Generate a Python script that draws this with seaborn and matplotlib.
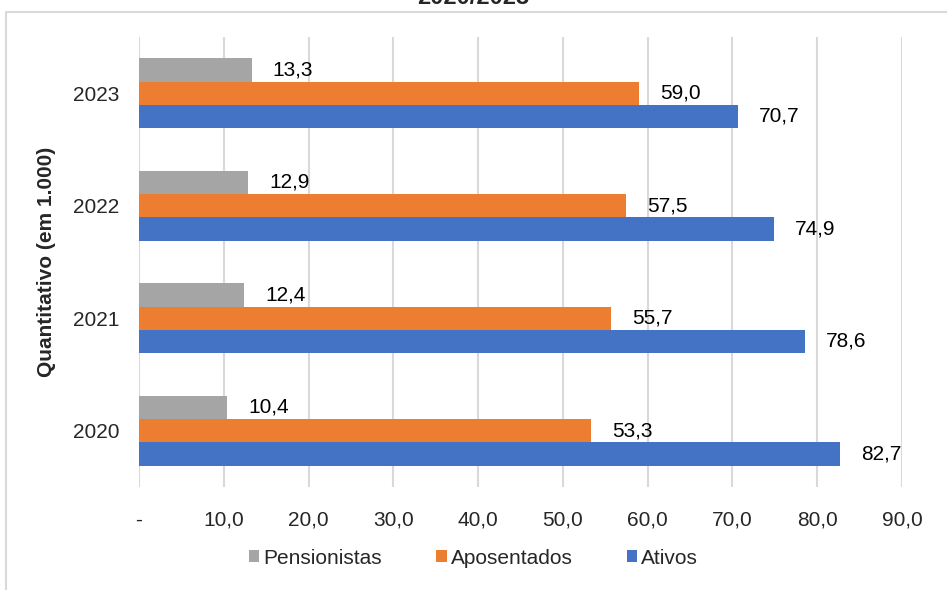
import matplotlib
matplotlib.use('Agg')
import matplotlib.pyplot as plt
from matplotlib.lines import Line2D
import pandas as pd
import seaborn as sns

anos = ['2023', '2022', '2021', '2020']
pensionistas = [13.3, 12.9, 12.4, 10.4]
aposentados = [59.0, 57.5, 55.7, 53.3]
ativos = [70.7, 74.9, 78.6, 82.7]
series = ['Pensionistas', 'Aposentados', 'Ativos']
cores = ['#A5A5A5', '#ED7D31', '#4472C4']
xticks = [0, 10, 20, 30, 40, 50, 60, 70, 80, 90]

df = pd.DataFrame({
    'ano': anos * 3,
    'serie': [s for s in series for _ in anos],
    'valor': pensionistas + aposentados + ativos,
})

sns.set_style('white')
plt.rcParams['font.family'] = ['Liberation Sans', 'DejaVu Sans']

fig = plt.figure(figsize=(9.47, 5.9), dpi=100)
ax = fig.add_axes([0.1468, 0.1746, 0.8057, 0.7627])

sns.barplot(data=df, x='valor', y='ano', hue='serie', order=anos,
            hue_order=series, palette=cores, orient='h', width=0.62,
            saturation=1, linewidth=0, ax=ax, legend=True)

for cont in ax.containers:
    vals = [b.get_width() for b in cont]
    ax.bar_label(cont, labels=[f'{v:.1f}'.replace('.', ',') for v in vals],
                 padding=15, fontsize=15, color='#000000')

ax.set_xlim(0, 90)
ax.set_ylim(3.5, -0.5)
ax.set_xticks(xticks)
ax.set_xticklabels(['-'] + [f'{v:.1f}'.replace('.', ',') for v in xticks[1:]])
ax.tick_params(axis='x', length=0, pad=17, labelsize=15)
ax.tick_params(axis='y', length=0, pad=14, labelsize=15)
ax.xaxis.grid(True, color='#D9D9D9', linewidth=1.5)
ax.set_axisbelow(True)
for s in ax.spines.values():
    s.set_visible(False)
ax.set_xlabel('')
ax.set_ylabel('Quantitativo (em 1.000)', fontsize=15, fontweight='bold', labelpad=12)

ax.legend(loc='center', bbox_to_anchor=(0.5, 1 - 558 / 590),
          bbox_transform=fig.transFigure, ncol=3, frameon=False,
          fontsize=15, handlelength=0.5, handleheight=0.5,
          handletextpad=0.2, columnspacing=2.6)

# chart frame (partly outside the image)
fig.add_artist(Line2D([6 / 947, 6 / 947, 1], [0, 1 - 12 / 590, 1 - 12 / 590],
                      transform=fig.transFigure, color='#D9D9D9', linewidth=1.5))
# title sits mostly above the image, as in the reference
fig.text(0.5, 1 - 4 / 590, '2020/2023', ha='center', va='baseline',
         fontsize=17, fontweight='bold')

fig.savefig('out.png', dpi=100)
